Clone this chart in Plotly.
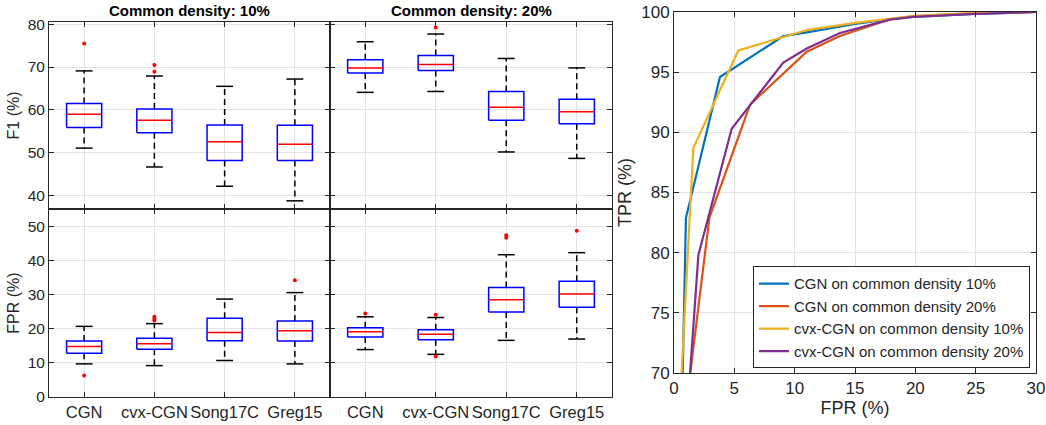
import plotly.graph_objects as go

categories = ["CGN", "cvx-CGN", "Song17C", "Greg15"]

# F1 (%) - common density 10%
f1_10_lower = [51.1, 46.7, 42.2, 38.8]
f1_10_q1 = [55.9, 54.7, 48.2, 48.2]
f1_10_median = [59.0, 57.6, 52.6, 52.0]
f1_10_q3 = [61.5, 60.2, 56.5, 56.4]
f1_10_upper = [69.1, 67.9, 65.5, 67.2]
f1_10_outliers = [[75.5], [70.5, 68.9], [], []]

# F1 (%) - common density 20%
f1_20_lower = [64.1, 64.3, 50.2, 48.7]
f1_20_q1 = [68.6, 69.2, 57.6, 56.8]
f1_20_median = [69.8, 70.6, 60.6, 59.6]
f1_20_q3 = [71.7, 72.7, 64.3, 62.5]
f1_20_upper = [75.9, 77.7, 72.0, 69.8]
f1_20_outliers = [[], [79.2], [], []]

# FPR (%) - common density 10%
fpr_10_lower = [9.7, 9.2, 10.7, 9.7]
fpr_10_q1 = [12.8, 14.0, 16.5, 16.4]
fpr_10_median = [14.8, 15.6, 18.9, 19.4]
fpr_10_q3 = [16.4, 17.2, 23.1, 22.3]
fpr_10_upper = [20.7, 21.5, 28.7, 30.6]
fpr_10_outliers = [[6.3], [23.5, 22.9, 22.4], [], [34.2]]

# FPR (%) - common density 20%
fpr_20_lower = [13.9, 12.5, 16.6, 17.0]
fpr_20_q1 = [17.6, 16.8, 24.9, 26.3]
fpr_20_median = [19.1, 18.4, 28.5, 30.2]
fpr_20_q3 = [20.3, 19.7, 32.1, 33.9]
fpr_20_upper = [23.5, 23.3, 41.7, 42.3]
fpr_20_outliers = [[24.5], [24.1, 11.9], [47.4, 46.7], [48.7]]

# ROC curves
roc_names = ["CGN on common density 10%", "CGN on common density 20%",
             "cvx-CGN on common density 10%", "cvx-CGN on common density 20%"]
cgn10_fpr = [0.72, 0.99, 3.81, 9.06, 11.0, 15.0, 17.9, 19.8, 24.9, 30.0]
cgn10_tpr = [70.0, 82.9, 94.6, 98.0, 98.3, 99.0, 99.4, 99.6, 99.85, 100.0]
cgn20_fpr = [1.35, 2.93, 6.3, 11.0, 13.75, 17.9, 19.8, 24.9, 30.0]
cgn20_tpr = [70.0, 82.9, 92.3, 96.7, 98.0, 99.4, 99.65, 99.9, 100.0]
cvx10_fpr = [0.63, 1.6, 5.33, 9.06, 11.0, 15.0, 17.9, 19.8, 24.9, 30.0]
cvx10_tpr = [70.0, 88.7, 96.8, 97.9, 98.5, 99.1, 99.4, 99.65, 99.9, 100.0]
cvx20_fpr = [1.33, 2.02, 4.78, 9.06, 11.0, 13.75, 17.9, 19.8, 24.9, 30.0]
cvx20_tpr = [70.0, 79.8, 90.3, 95.8, 96.96, 98.26, 99.37, 99.6, 99.85, 100.0]
roc_colors = ["#0072BD", "#D95319", "#EDB120", "#7E2F8E"]

FONT = "Liberation Sans, Arial, sans-serif"
TXT = "#262626"
GRID = "#e3e3e3"
W, H = 1046, 425

fig = go.Figure()


def add_boxes(lower, q1, med, q3, upper, outliers, xa, ya):
    hw, cw = 0.25, 0.12
    wx, wy, bx, by, mx, my, cx, cy, ox, oy = [], [], [], [], [], [], [], [], [], []
    for i in range(len(categories)):
        p = i + 1
        wx += [p, p, None, p, p, None]
        wy += [q3[i], upper[i], None, q1[i], lower[i], None]
        bx += [p - hw, p + hw, p + hw, p - hw, p - hw, None]
        by += [q1[i], q1[i], q3[i], q3[i], q1[i], None]
        mx += [p - hw, p + hw, None]
        my += [med[i], med[i], None]
        cx += [p - cw, p + cw, None, p - cw, p + cw, None]
        cy += [upper[i], upper[i], None, lower[i], lower[i], None]
        for v in outliers[i]:
            ox.append(p)
            oy.append(v)
    common = dict(xaxis=xa, yaxis=ya, showlegend=False, hoverinfo="skip", mode="lines")
    fig.add_trace(go.Scatter(x=wx, y=wy, line=dict(color="black", width=1.5, dash="6px,4px"), **common))
    fig.add_trace(go.Scatter(x=cx, y=cy, line=dict(color="black", width=1.5), **common))
    fig.add_trace(go.Scatter(x=bx, y=by, line=dict(color="#0000ff", width=1.5), **common))
    fig.add_trace(go.Scatter(x=mx, y=my, line=dict(color="#ff0000", width=1.5), **common))
    fig.add_trace(go.Scatter(x=ox, y=oy, mode="markers", marker=dict(color="#ff0000", size=4),
                             xaxis=xa, yaxis=ya, showlegend=False, hoverinfo="skip"))


add_boxes(f1_10_lower, f1_10_q1, f1_10_median, f1_10_q3, f1_10_upper, f1_10_outliers, "x", "y")
add_boxes(f1_20_lower, f1_20_q1, f1_20_median, f1_20_q3, f1_20_upper, f1_20_outliers, "x2", "y2")
add_boxes(fpr_10_lower, fpr_10_q1, fpr_10_median, fpr_10_q3, fpr_10_upper, fpr_10_outliers, "x3", "y3")
add_boxes(fpr_20_lower, fpr_20_q1, fpr_20_median, fpr_20_q3, fpr_20_upper, fpr_20_outliers, "x4", "y4")

roc_fprs = [cgn10_fpr, cgn20_fpr, cvx10_fpr, cvx20_fpr]
roc_tprs = [cgn10_tpr, cgn20_tpr, cvx10_tpr, cvx20_tpr]
for name, fx, ty, col in zip(roc_names, roc_fprs, roc_tprs, roc_colors):
    fig.add_trace(go.Scatter(x=fx, y=ty, mode="lines", name=name, line=dict(color=col, width=2.2),
                             xaxis="x5", yaxis="y5"))

px_x = lambda p: p / W
px_y = lambda p: 1 - p / H

L0, L1, R1 = px_x(49), px_x(330), px_x(612)
T0, MID, B1 = px_y(22), px_y(209), px_y(397)

axis_common = dict(showline=True, linecolor=TXT, linewidth=1, mirror="ticks", ticks="inside",
                   ticklen=5, tickcolor=TXT, showgrid=True, gridcolor=GRID, gridwidth=1,
                   zeroline=False, automargin=False,
                   tickfont=dict(family=FONT, size=15.5, color=TXT))

cat_x = dict(axis_common, range=[0.5, 4.5], tickvals=[1, 2, 3, 4])

fig.update_layout(
    width=W, height=H,
    margin=dict(l=0, r=0, t=0, b=0, autoexpand=False),
    paper_bgcolor="white", plot_bgcolor="white",
    font=dict(family=FONT, color=TXT),
    xaxis=dict(cat_x, domain=[L0, L1], anchor="y", showticklabels=False),
    xaxis2=dict(cat_x, domain=[L1, R1], anchor="y2", showticklabels=False),
    xaxis3=dict(cat_x, domain=[L0, L1], anchor="y3", ticktext=categories,
                tickfont=dict(family=FONT, size=16.5, color=TXT)),
    xaxis4=dict(cat_x, domain=[L1, R1], anchor="y4", ticktext=categories,
                tickfont=dict(family=FONT, size=16.5, color=TXT)),
    yaxis=dict(axis_common, domain=[MID, T0], anchor="x", range=[36.9, 80.5],
               tickvals=[40, 50, 60, 70, 80],
               title=dict(text="F1 (%)", font=dict(family=FONT, size=16, color=TXT), standoff=4)),
    yaxis2=dict(axis_common, domain=[MID, T0], anchor="x2", range=[36.9, 80.5],
                tickvals=[40, 50, 60, 70, 80], showticklabels=False),
    yaxis3=dict(axis_common, domain=[B1, MID], anchor="x3", range=[0, 55.1],
                tickvals=[0, 10, 20, 30, 40, 50],
                title=dict(text="FPR (%)", font=dict(family=FONT, size=16, color=TXT), standoff=4)),
    yaxis4=dict(axis_common, domain=[B1, MID], anchor="x4", range=[0, 55.1],
                tickvals=[0, 10, 20, 30, 40, 50], showticklabels=False),
    xaxis5=dict(axis_common, domain=[px_x(674), px_x(1036)], anchor="y5", range=[0, 30],
                tickvals=[0, 5, 10, 15, 20, 25, 30],
                tickfont=dict(family=FONT, size=17, color=TXT),
                title=dict(text="FPR (%)", font=dict(family=FONT, size=18, color=TXT), standoff=2)),
    yaxis5=dict(axis_common, domain=[px_y(373), px_y(12)], anchor="x5", range=[70, 100],
                tickvals=[70, 75, 80, 85, 90, 95, 100],
                tickfont=dict(family=FONT, size=17, color=TXT),
                title=dict(text="TPR (%)", font=dict(family=FONT, size=18, color=TXT), standoff=4)),
    legend=dict(x=px_x(1030), y=px_y(368.3), xanchor="right", yanchor="bottom",
                bgcolor="white", bordercolor=TXT, borderwidth=1,
                font=dict(family=FONT, size=15, color=TXT), itemwidth=30,
                tracegroupgap=0),
    annotations=[
        dict(text="<b>Common density: 10%</b>", x=(L0 + L1) / 2, y=px_y(11), xref="paper", yref="paper",
             showarrow=False, font=dict(family=FONT, size=15, color="black"),
             xanchor="center", yanchor="middle"),
        dict(text="<b>Common density: 20%</b>", x=(L1 + R1) / 2, y=px_y(11), xref="paper", yref="paper",
             showarrow=False, font=dict(family=FONT, size=15, color="black"),
             xanchor="center", yanchor="middle"),
    ],
)

fig.write_html(
    "out.html",
    config={"displayModeBar": False},
    post_script="document.body.style.margin='0';document.body.style.padding='0';"
                "document.body.style.overflow='hidden';",
)
